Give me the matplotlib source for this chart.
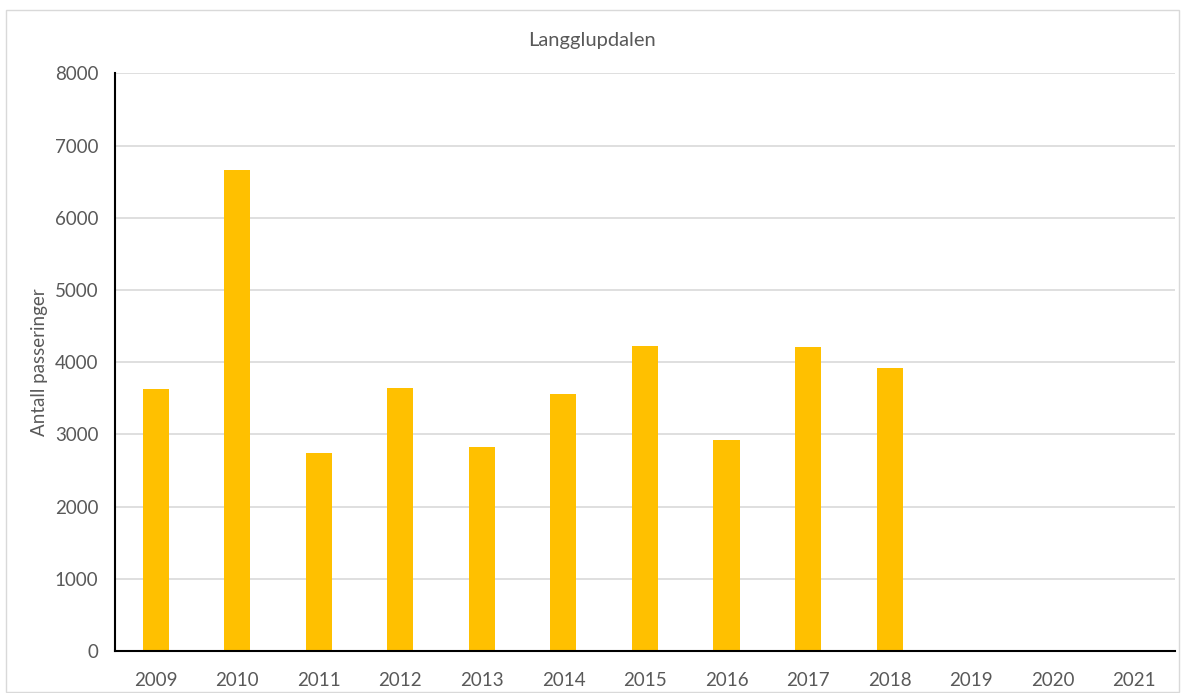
import numpy as np
import matplotlib.pyplot as plt
from matplotlib.patches import Rectangle

years = ["2009", "2010", "2011", "2012", "2013", "2014", "2015",
         "2016", "2017", "2018", "2019", "2020", "2021"]
passeringer = [3630, 6660, 2740, 3640, 2820, 3560, 4225,
               2925, 4205, 3925, np.nan, np.nan, np.nan]

plt.rcParams['font.family'] = ['Lato', 'DejaVu Sans']
grey = "#595959"

fig = plt.figure(figsize=(11.84, 6.93), dpi=100)
ax = fig.add_axes([0.0971, 0.0606, 0.8953, 0.8334])

x = np.arange(len(years))
vals = np.nan_to_num(passeringer)
ax.bar(x, vals, width=0.32, color="#FFC000", zorder=3)

ax.set_xlim(-0.5, len(years) - 0.5)
ax.set_ylim(0, 8000)
ax.set_yticks(np.arange(0, 8001, 1000))
ax.set_xticks(x)
ax.set_xticklabels(years)
ax.yaxis.grid(True, color="#D9D9D9", linewidth=1.2, zorder=0)
ax.tick_params(length=0, labelsize=13.5, colors=grey)
ax.tick_params(axis="x", pad=15)
ax.tick_params(axis="y", pad=12)

for s in ["top", "right"]:
    ax.spines[s].set_visible(False)
ax.spines["left"].set_color("black")
ax.spines["bottom"].set_color("black")
ax.spines["left"].set_linewidth(1.5)
ax.spines["bottom"].set_linewidth(1.5)
ax.spines["left"].set_zorder(4)
ax.spines["bottom"].set_zorder(4)

ax.set_ylabel("Antall passeringer", fontsize=13.5, color=grey, labelpad=5)
fig.text(0.5, 0.942, "Langglupdalen", ha="center", va="center",
         fontsize=14.5, color=grey)

fig.patches.append(Rectangle((0.005, 0.002), 0.991, 0.984, transform=fig.transFigure,
                             fill=False, edgecolor="#D9D9D9", linewidth=1))

fig.savefig("out.png", dpi=100)
